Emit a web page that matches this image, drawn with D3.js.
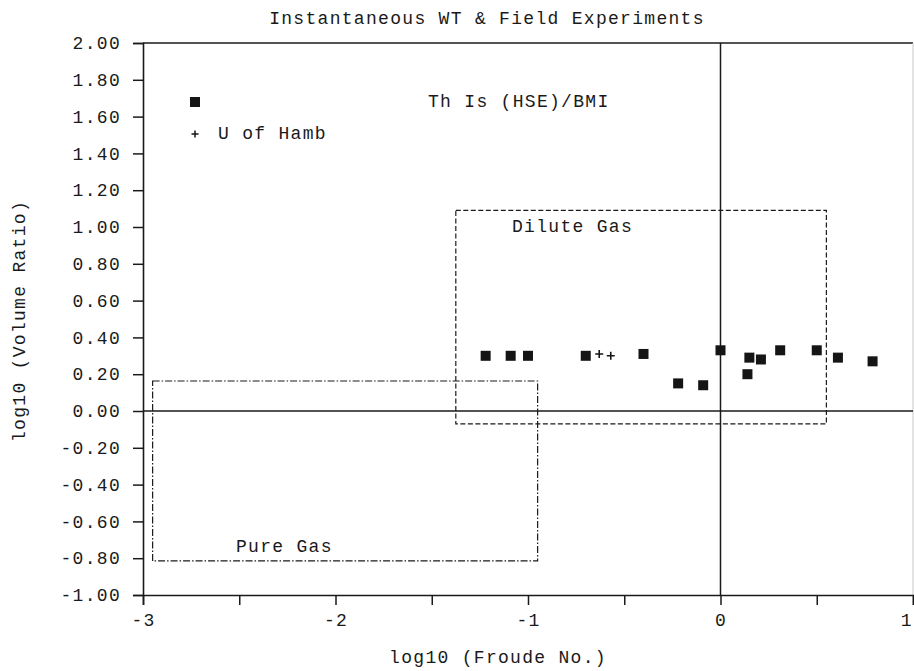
<!DOCTYPE html>
<html><head><meta charset="utf-8">
<script src="https://cdn.jsdelivr.net/npm/d3@7"></script>
<style>
html,body{margin:0;padding:0;background:#fff;}
text{font-family:"Liberation Mono","DejaVu Sans Mono",monospace;fill:#1a1a1a;}
</style></head>
<body>
<svg id="c" width="914" height="671"></svg>
<script>
// ---- data ----
const title = "Instantaneous WT & Field Experiments";
const xTitle = "log10 (Froude No.)";
const yTitle = "log10 (Volume Ratio)";
const seriesNames = ["Th Is (HSE)/BMI", "U of Hamb"];
const thIsX = [-1.22, -1.09, -1.00, -0.70, -0.40, -0.22, -0.09, 0.00, 0.14, 0.15, 0.21, 0.31, 0.50, 0.61, 0.79];
const thIsY = [0.30, 0.30, 0.30, 0.30, 0.31, 0.15, 0.14, 0.33, 0.20, 0.29, 0.28, 0.33, 0.33, 0.29, 0.27];
const hambX = [-0.63, -0.57];
const hambY = [0.31, 0.30];
const xTicks = [-3, -2.5, -2, -1.5, -1, -0.5, 0, 0.5, 1];
const yTicks = [-1, -0.8, -0.6, -0.4, -0.2, 0, 0.2, 0.4, 0.6, 0.8, 1, 1.2, 1.4, 1.6, 1.8, 2];
const regionNames = ["Dilute Gas", "Pure Gas"];
const diluteBox = [-1.375, 0.55, -0.07, 1.09];   // x0, x1, y0, y1
const pureBox = [-2.95, -0.95, -0.815, 0.163];

// ---- layout ----
const svg = d3.select("#c");
const x = d3.scaleLinear().domain([-3, 1]).range([143, 913]);
const y = d3.scaleLinear().domain([-1, 2]).range([595, 43]);
const FS = 18, LS = "1.3px", INK = "#1a1a1a";

svg.append("rect").attr("width", 914).attr("height", 671).attr("fill", "#fff");

// title
svg.append("text").attr("x", 487).attr("y", 24).attr("text-anchor", "middle")
  .attr("font-size", FS).attr("letter-spacing", LS).text(title);

// frame: top line and faint right border
svg.append("line").attr("x1", x(-3)).attr("x2", x(1)).attr("y1", y(2)).attr("y2", y(2))
  .attr("stroke", INK).attr("stroke-width", 1.6);
svg.append("line").attr("x1", x(1)).attr("x2", x(1)).attr("y1", y(2)).attr("y2", y(-1))
  .attr("stroke", "#c8c8c8").attr("stroke-width", 1);

// zero lines
svg.append("line").attr("x1", x(-3)).attr("x2", x(1)).attr("y1", y(0)).attr("y2", y(0))
  .attr("stroke", INK).attr("stroke-width", 1.5);
svg.append("line").attr("x1", x(0)).attr("x2", x(0)).attr("y1", y(2)).attr("y2", y(-1))
  .attr("stroke", INK).attr("stroke-width", 1.5);

// axes
const fmtY = v => (v < 0 ? "-" : "") + Math.abs(v).toFixed(2);
const yAxis = d3.axisLeft(y).tickValues(yTicks).tickSize(10).tickPadding(12).tickFormat(fmtY);
const gy = svg.append("g").attr("transform", `translate(${x(-3)},0)`).call(yAxis);
const fmtX = v => Number.isInteger(v) ? (v < 0 ? "-" : "") + Math.abs(v) : "";
const xAxis = d3.axisBottom(x).tickValues(xTicks).tickSize(10).tickPadding(8).tickFormat(fmtX);
const gx = svg.append("g").attr("transform", `translate(0,${y(-1)})`).call(xAxis);
[gx, gy].forEach(g => {
  g.select(".domain").attr("stroke", INK).attr("stroke-width", 1.6);
  g.selectAll(".tick line").attr("stroke", INK).attr("stroke-width", 1.5);
  g.selectAll(".tick text").attr("font-size", FS).attr("letter-spacing", LS)
    .attr("font-family", '"Liberation Mono","DejaVu Sans Mono",monospace').attr("fill", INK);
});
// keep the last x label (at the right edge) inside the picture
gx.selectAll(".tick text").filter(d => d === 1).attr("text-anchor", "end")
  .attr("letter-spacing", "0px").attr("dx", "-2px");

// axis titles
svg.append("text").attr("x", 498).attr("y", 663).attr("text-anchor", "middle")
  .attr("font-size", FS).attr("letter-spacing", LS).text(xTitle);
svg.append("text").attr("transform", "translate(25,321) rotate(-90)").attr("text-anchor", "middle")
  .attr("font-size", FS).attr("letter-spacing", LS).text(yTitle);

// region boxes
const boxes = [
  {b: diluteBox, dash: "5,2.5", name: regionNames[0], tx: 512, ty: 232},
  {b: pureBox, dash: "7,2,1.5,2", name: regionNames[1], tx: 236, ty: 552}
];
boxes.forEach(o => {
  const [x0, x1, y0, y1] = o.b;
  svg.append("rect").attr("x", x(x0)).attr("y", y(y1))
    .attr("width", x(x1) - x(x0)).attr("height", y(y0) - y(y1))
    .attr("fill", "none").attr("stroke", INK).attr("stroke-width", 1.2)
    .attr("stroke-dasharray", o.dash);
  svg.append("text").attr("x", o.tx).attr("y", o.ty).attr("font-size", FS)
    .attr("letter-spacing", LS).text(o.name);
});

// data: filled squares
const S = 10;
svg.append("g").selectAll("rect").data(d3.zip(thIsX, thIsY)).join("rect")
  .attr("x", d => x(d[0]) - S / 2).attr("y", d => y(d[1]) - S / 2)
  .attr("width", S).attr("height", S).attr("fill", "#151515");

// data: plus markers
const P = 4;
const plusPath = (cx, cy, r) => `M${cx - r},${cy}H${cx + r}M${cx},${cy - r}V${cy + r}`;
svg.append("g").selectAll("path").data(d3.zip(hambX, hambY)).join("path")
  .attr("d", d => plusPath(x(d[0]), y(d[1]), P))
  .attr("stroke", "#151515").attr("stroke-width", 1.6).attr("fill", "none");

// legend
svg.append("rect").attr("x", 195 - S / 2).attr("y", 102 - S / 2).attr("width", S).attr("height", S)
  .attr("fill", "#151515");
svg.append("text").attr("x", 428).attr("y", 107).attr("font-size", FS).attr("letter-spacing", LS)
  .text(seriesNames[0]);
svg.append("path").attr("d", plusPath(195, 134, 3.5)).attr("stroke", "#151515")
  .attr("stroke-width", 1.5);
svg.append("text").attr("x", 218).attr("y", 139).attr("font-size", FS).attr("letter-spacing", LS)
  .text(seriesNames[1]);
</script>
</body></html>
